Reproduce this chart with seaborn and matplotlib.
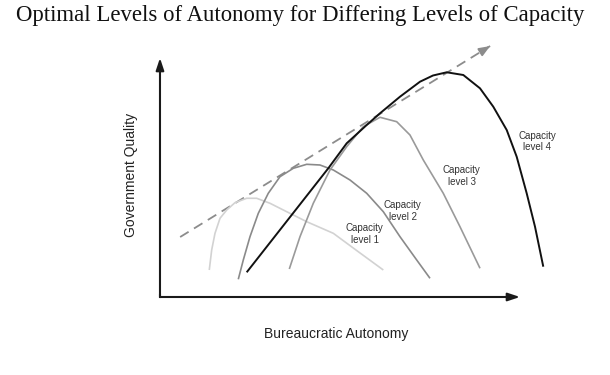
import matplotlib
matplotlib.use("Agg")
import matplotlib.pyplot as plt
import pandas as pd
import seaborn as sns

# ---------------- data (conceptual units: autonomy 0-100, quality 0-100) -------------
TITLE = "Optimal Levels of Autonomy for Differing Levels of Capacity"
X_LABEL = "Bureaucratic Autonomy"
Y_LABEL = "Government Quality"
LEVEL_NAMES = ["Capacity\nlevel 1", "Capacity\nlevel 2", "Capacity\nlevel 3", "Capacity\nlevel 4"]

L1_X = [13.69, 14.36, 15.28, 16.67, 18.53, 20.83, 24.08, 26.86, 30.56, 35.19, 40.75, 48.14, 55.08, 62.03]
L1_Y = [11.30, 19.67, 26.65, 32.93, 36.40, 39.46, 41.30, 41.30, 39.21, 35.69, 31.51, 26.65, 18.95, 11.30]

L2_X = [21.75, 23.14, 25.00, 27.31, 30.08, 33.33, 37.03, 40.75, 44.44, 48.14, 52.78, 57.42, 62.03, 66.67, 71.31, 75.00]
L2_Y = [7.41, 15.48, 25.23, 35.02, 43.39, 50.33, 53.85, 55.52, 55.23, 53.14, 48.95, 43.39, 35.69, 25.23, 15.48, 7.82]

L3_X = [35.92, 38.89, 42.58, 47.22, 51.86, 56.47, 61.11, 65.75, 69.44, 73.14, 78.69, 83.33, 88.89]
L3_Y = [11.72, 25.23, 39.21, 53.14, 62.89, 71.26, 75.19, 73.35, 67.78, 57.32, 43.39, 29.41, 12.01]

L4_X = [24.08, 46.75, 51.86, 57.42, 61.11, 66.67, 72.22, 75.83, 79.64, 84.25, 88.89, 92.58,
        96.31, 99.08, 101.86, 104.17, 106.47]
L4_Y = [10.33, 53.85, 64.31, 71.97, 76.86, 83.81, 90.08, 92.68, 94.02, 92.89, 87.32, 79.62,
        69.87, 58.70, 43.39, 29.41, 12.68]

TREND_X = [5.6, 91.7]
TREND_Y = [25.1, 105.0]

AXIS_MAX = 100

# ---------------- styling / layout --------------------------------------------------
sns.set_theme(style="white")
plt.rcParams["font.family"] = ["Liberation Sans", "DejaVu Sans"]

fig = plt.figure(figsize=(6.1, 3.75), dpi=100)
ax = fig.add_axes([0, 0, 1, 1])
ax.set_xlim(-44.44, 125.0)
ax.set_ylim(-32.64, 124.27)
ax.axis("off")

curves = [
    (L1_X, L1_Y, "#d2d2d2", 1.2),
    (L2_X, L2_Y, "#8a8a8a", 1.2),
    (L3_X, L3_Y, "#9a9a9a", 1.2),
    (L4_X, L4_Y, "#111111", 1.4),
]
label_pos = [(56.9, 26.4), (67.4, 36.0), (83.8, 50.6), (104.7, 65.1)]

# trend (dashed) line
trend = pd.DataFrame({"x": TREND_X, "y": TREND_Y})
sns.lineplot(data=trend, x="x", y="y", ax=ax, color="#8c8c8c", lw=1.3,
             linestyle=(0, (5.5, 3.5)), sort=False, estimator=None, legend=False)
ax.annotate("", xy=(TREND_X[1], TREND_Y[1]),
            xytext=(TREND_X[1] - 2.5, TREND_Y[1] - 2.5 * (TREND_Y[1] - TREND_Y[0]) / (TREND_X[1] - TREND_X[0])),
            arrowprops=dict(arrowstyle="-|>,head_length=0.55,head_width=0.22",
                            color="#8c8c8c", lw=1.3, shrinkA=0, shrinkB=0))

for (xs, ys, col, lw), name, (lx, ly) in zip(curves, LEVEL_NAMES, label_pos):
    df = pd.DataFrame({"x": xs, "y": ys})
    sns.lineplot(data=df, x="x", y="y", ax=ax, color=col, lw=lw, sort=False,
                 estimator=None, legend=False, solid_joinstyle="round", solid_capstyle="butt")
    ax.text(lx, ly, name, ha="center", va="center", fontsize=7, color="#333333",
            linespacing=1.15)

# axes arrows
arrow = dict(arrowstyle="-|>,head_length=0.6,head_width=0.2", color="#1a1a1a",
             lw=1.5, shrinkA=0, shrinkB=0)
ax.annotate("", xy=(AXIS_MAX, 0), xytext=(0, 0), arrowprops=arrow)
ax.annotate("", xy=(0, AXIS_MAX), xytext=(0, 0), arrowprops=arrow)
ax.plot([0, 0], [0, 1], color="#1a1a1a", lw=1.5, solid_capstyle="projecting")

ax.set_xlabel("")
ax.set_ylabel("")
ax.text(48.9, -15.5, X_LABEL, ha="center", va="center", fontsize=10, color="#222222")
ax.text(-8.0, 51.0, Y_LABEL, ha="center", va="center", rotation=90, fontsize=10,
        color="#222222")

fig.text(300 / 610, 1 - 15 / 375, TITLE, ha="center", va="center",
         fontsize=16.4, color="#111111", family=["Liberation Serif", "DejaVu Serif"])

fig.savefig("out.png", dpi=100, facecolor="white")
